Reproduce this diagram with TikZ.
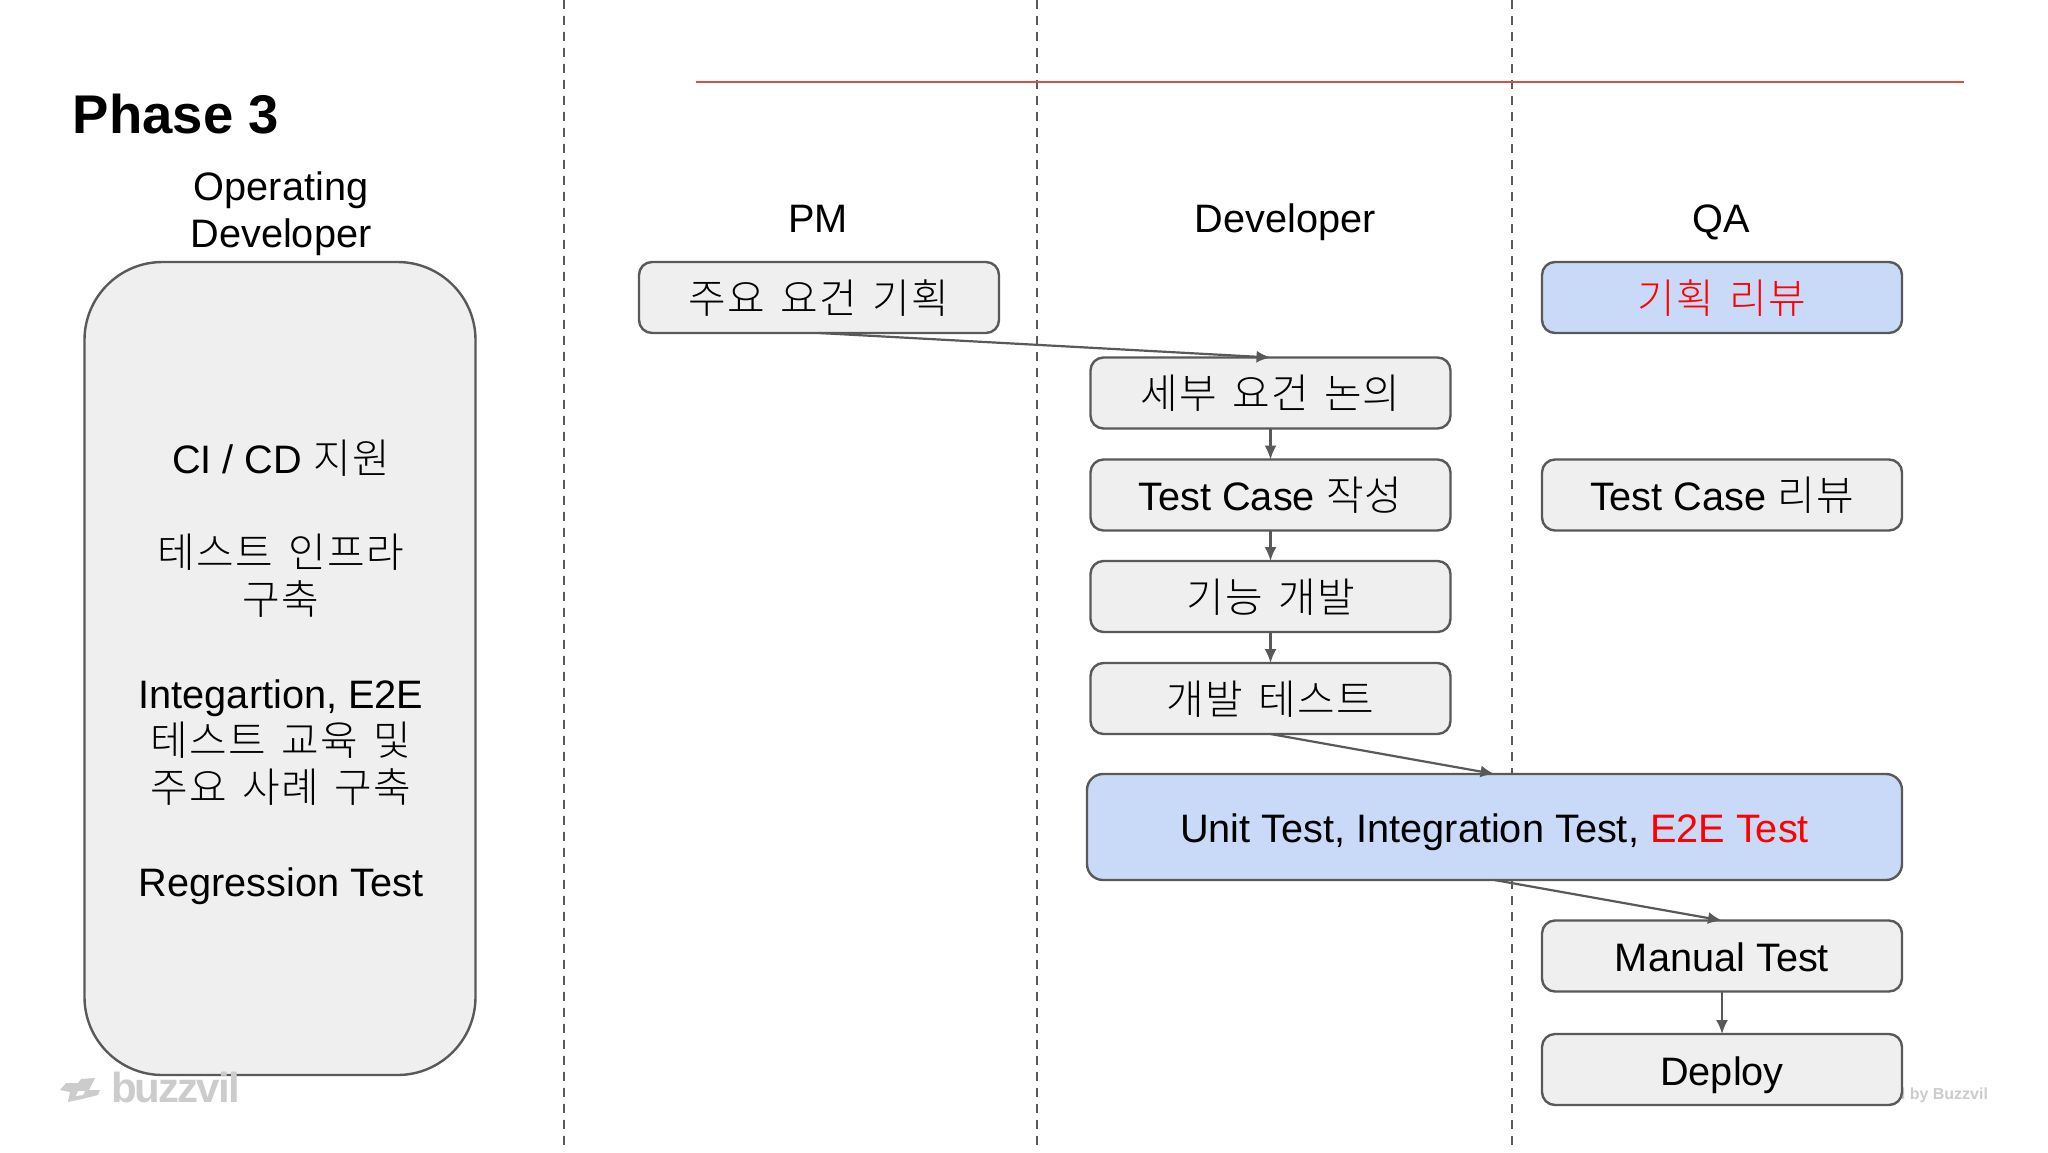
\documentclass[tikz,border=0pt]{standalone}
\usepackage{fontspec}
\setmainfont{Liberation Sans}
\newfontfamily\kr{Noto Sans CJK KR}[UprightFont=* Light,Scale=1.03,LetterSpace=3,WordSpace=1.5]
\newfontfamily\wmfont{Liberation Sans}[LetterSpace=-4.5]
\usetikzlibrary{arrows.meta}
\definecolor{boxline}{HTML}{595959}
\definecolor{boxfill}{HTML}{EFEFEF}
\definecolor{bluefill}{HTML}{C9DAF8}
\definecolor{redtext}{HTML}{FF0000}
\definecolor{redline}{HTML}{DD4B4B}
\definecolor{wm}{HTML}{CCCCCC}
\tikzset{
  x=1pt,y=-1pt,
  base/.style={inner sep=0pt,outer sep=0pt,font=\fontsize{39.7}{47}\selectfont,text=black,align=center},
  label/.style={base},
  single/.style={base,text height=31pt,text depth=0pt},
  procbox/.style={single,draw=boxline,fill=boxfill,line width=2.4pt,rounded corners=13pt,minimum width=360pt,minimum height=71pt},
  bluebox/.style={procbox,fill=bluefill},
  conn/.style={draw=boxline,line width=2.2pt,-{Latex[length=14pt,width=12pt]}},
  lane/.style={draw=boxline,line width=2pt,dash pattern=on 9pt off 7pt},
}
\begin{document}
\begin{tikzpicture}
\useasboundingbox (0,0) rectangle (2048,1152);
\fill[white] (0,0) rectangle (2048,1152);
% lanes
\coordinate (l1a) at (564,0); \coordinate (l1b) at (564,1152);
\coordinate (l2a) at (1037,0); \coordinate (l2b) at (1037,1152);
\coordinate (l3a) at (1512,0); \coordinate (l3b) at (1512,1152);
\draw[lane] (l1a) -- (l1b);
\draw[lane] (l2a) -- (l2b);
\draw[lane] (l3a) -- (l3b);
\coordinate (ra) at (696,81.5); \coordinate (rb) at (1964,81.5);
\draw[draw=redline,line width=2pt] (ra) -- (rb);
% titles
\node[base,font=\fontsize{54.5}{60}\selectfont\bfseries] (phase) at (176,114) {Phase 3};
\node[label] (opdev) at (281,213.5) {Operating\\Developer};
\node[single] (pm) at (818,216.7) {PM};
\node[single] (dev) at (1285,216.7) {Developer};
\node[single] (qa) at (1721,216.7) {QA};
% left box
\node[base,draw=boxline,fill=boxfill,line width=2.4pt,minimum width=391pt,minimum height=813pt,rounded corners=78pt] (ops) at (280,668.5) {};
\node[label] (opstext) at (281,672) {CI / CD {\kr 지원}\\[47pt]{\kr 테스트 인프라}\\{\kr 구축}\\[47pt]Integartion, E2E\\{\kr 테스트 교육 및}\\{\kr 주요 사례 구축}\\[47pt]Regression Test};
% watermarks
\node[base,font=\fontsize{16}{18}\selectfont\bfseries,text=wm,anchor=east] (wmr) at (1988,1095) {d by Buzzvil};
\fill[wm] (60,1090) -- (66,1083) -- (78,1083) -- (81,1079) -- (95,1078) -- (89,1090) -- (100,1090) -- (98,1095) -- (82,1099) -- (68,1102) -- (70,1092) -- cycle;
\fill[white] (78,1091) -- (85,1091) -- (83,1095) -- (76,1096) -- cycle;
\node[base,font=\fontsize{42}{46}\wmfont\bfseries,text=wm,anchor=base west] (wml) at (111,1102) {buzzvil};
% boxes
\node[procbox] (plan) at (819,297.5) {{\kr 주요 요건 기획}};
\node[bluebox,text=redtext] (review) at (1722,297.5) {{\kr 기획 리뷰}};
\node[procbox] (detail) at (1270.5,393) {{\kr 세부 요건 논의}};
\node[procbox] (tcw) at (1270.5,495) {Test Case {\kr 작성}};
\node[procbox] (tcr) at (1722,495) {Test Case {\kr 리뷰}};
\node[procbox] (devf) at (1270.5,596.5) {{\kr 기능 개발}};
\node[procbox] (devt) at (1270.5,698.5) {{\kr 개발 테스트}};
\node[bluebox,minimum width=815pt,minimum height=106pt,rounded corners=16pt] (unit) at (1494.5,827) {Unit Test, Integration Test, \textcolor{redtext}{E2E Test}};
\node[procbox] (manual) at (1722,956) {Manual Test};
\node[procbox] (deploy) at (1722,1069.5) {Deploy};
% connectors
\draw[conn] (plan.south) -- (detail.north);
\draw[conn] (detail) -- (tcw);
\draw[conn] (tcw) -- (devf);
\draw[conn] (devf) -- (devt);
\draw[conn] (devt.south) -- (unit.north);
\draw[conn] (unit.south) -- (manual.north);
\draw[conn] (manual) -- (deploy);
\end{tikzpicture}
\end{document}
